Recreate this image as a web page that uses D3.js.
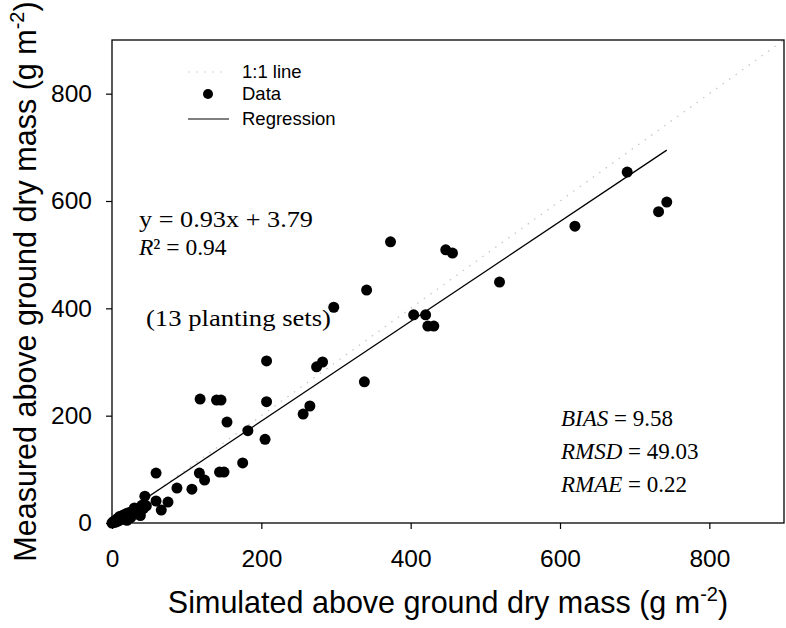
<!DOCTYPE html>
<html>
<head>
<meta charset="utf-8">
<script src="https://cdn.jsdelivr.net/npm/d3@7/dist/d3.min.js"></script>
<style>
  body { margin: 0; background: #fff; }
</style>
</head>
<body>
<div id="chart"></div>
<script>

// data (g m-2)
var simulated = [0, 2, 3, 5, 6, 8, 9, 10, 12, 14, 15, 17, 18, 20, 22, 24, 26, 28, 30, 33, 35, 38, 40, 36,
                 25, 20, 38, 46, 30,
                 44, 42, 59, 66, 75, 59, 87, 107, 117, 124, 144, 150, 175, 118, 140, 146, 154, 182, 205,
                 207, 207, 256, 265, 274, 282, 297, 338, 341, 373, 404, 420, 423, 431, 447, 456, 519,
                 620, 690, 732, 743];
var measured  = [0, 3, 1, 6, 2, 9, 4, 12, 7, 14, 10, 16, 8, 18, 13, 20, 16, 22, 18, 24, 20, 28, 33, 16,
                 10, 5, 14, 32, 28,
                 50, 27, 41, 24, 39, 93, 65, 63, 93, 80, 95, 95, 112, 231, 229, 229, 188, 172, 156,
                 226, 302, 203, 218, 291, 300, 402, 263, 434, 524, 388, 388, 367, 367, 509, 503, 449,
                 553, 654, 580, 598];

var xTicks = [0, 200, 400, 600, 800];
var yTicks = [0, 200, 400, 600, 800];
var axisMax = 900;

// regression y = 0.93x + 3.79 over the simulated range
var regSlope = 0.93, regIntercept = 3.79;
var regRange = [0, 743];

var legendLabels = ["1:1 line", "Data", "Regression"];
var eqText = "y = 0.93x + 3.79";
var r2Text = "\u00B2 = 0.94";
var setsText = "(13 planting sets)";
var statNames = ["BIAS", "RMSD", "RMAE"];
var statValues = ["9.58", "49.03", "0.22"];

var margin = {top: 40, right: 2, bottom: 105, left: 112},
    width = 786 - margin.left - margin.right,
    height = 628 - margin.top - margin.bottom;

var svg = d3.select("#chart")
  .append("svg")
    .attr("width", 786)
    .attr("height", 628)
  .append("g")
    .attr("transform", "translate(" + margin.left + "," + margin.top + ")");

var x = d3.scaleLinear().domain([0, axisMax]).range([0, width]);
var y = d3.scaleLinear().domain([0, axisMax]).range([height, 0]);

// axes
var xAxis = svg.append("g")
    .attr("transform", "translate(0," + height + ")")
    .call(d3.axisBottom(x).tickValues(xTicks).tickSize(6).tickSizeOuter(0).tickPadding(21));
var yAxis = svg.append("g")
    .call(d3.axisLeft(y).tickValues(yTicks).tickSize(6).tickSizeOuter(0).tickPadding(14));

[xAxis, yAxis].forEach(function(a) {
  a.select(".domain").remove();
  a.attr("font-family", "'Liberation Sans', Arial, sans-serif").attr("font-size", 24.5);
  a.selectAll("line").attr("stroke", "#000").attr("stroke-width", 1.2);
  a.selectAll("text").attr("fill", "#000");
});

// 1:1 line
svg.append("line")
    .attr("x1", x(0)).attr("y1", y(0))
    .attr("x2", x(axisMax)).attr("y2", y(axisMax))
    .attr("stroke", "#c4c4c4")
    .attr("stroke-width", 1.2)
    .attr("stroke-dasharray", "1.5,6.5");

// regression line
svg.append("path")
    .datum(regRange)
    .attr("fill", "none")
    .attr("stroke", "#000")
    .attr("stroke-width", 1.3)
    .attr("d", d3.line()
      .x(function(d) { return x(d); })
      .y(function(d) { return y(regSlope * d + regIntercept); }));

// points
svg.selectAll("circle.pt")
  .data(simulated)
  .enter().append("circle")
    .attr("class", "pt")
    .attr("cx", function(d) { return x(d); })
    .attr("cy", function(d, i) { return y(measured[i]); })
    .attr("r", 5.5)
    .attr("fill", "#000");

// frame
svg.append("rect")
    .attr("width", width).attr("height", height)
    .attr("fill", "none")
    .attr("stroke", "#000")
    .attr("stroke-width", 1.3);

// axis titles
var xt = svg.append("text")
    .attr("x", width / 2).attr("y", height + 90)
    .attr("text-anchor", "middle")
    .attr("font-family", "'Liberation Sans', Arial, sans-serif")
    .attr("font-size", 30.5);
xt.append("tspan").text("Simulated above ground dry mass (g m");
xt.append("tspan").attr("dy", -12).attr("font-size", 20).text("-2");
xt.append("tspan").attr("dy", 12).text(")");

var yt = svg.append("text")
    .attr("transform", "rotate(-90)")
    .attr("x", -height / 2).attr("y", -76)
    .attr("text-anchor", "middle")
    .attr("font-family", "'Liberation Sans', Arial, sans-serif")
    .attr("font-size", 30.5);
yt.append("tspan").text("Measured above ground dry mass (g m");
yt.append("tspan").attr("dy", -12).attr("font-size", 20).text("-2");
yt.append("tspan").attr("dy", 12).text(")");

// legend
var lg = svg.append("g")
    .attr("transform", "translate(76,32)")
    .attr("font-family", "'Liberation Sans', Arial, sans-serif")
    .attr("font-size", 18.5);
lg.append("line").attr("x1", 0).attr("x2", 40).attr("y1", 0).attr("y2", 0)
    .attr("stroke", "#c4c4c4").attr("stroke-width", 1.2).attr("stroke-dasharray", "1.5,6.5");
lg.append("circle").attr("cx", 20).attr("cy", 22).attr("r", 5).attr("fill", "#000");
lg.append("line").attr("x1", 0).attr("x2", 41).attr("y1", 47).attr("y2", 47)
    .attr("stroke", "#000").attr("stroke-width", 1.2);
lg.selectAll("text.lab")
  .data(legendLabels)
  .enter().append("text")
    .attr("class", "lab")
    .attr("x", 54)
    .attr("y", function(d, i) { return [0, 22, 47][i]; })
    .attr("dy", "0.35em")
    .text(function(d) { return d; });

// annotations
var serif = "'Liberation Serif', 'Times New Roman', serif";
svg.append("text")
    .attr("x", 27).attr("y", 187)
    .attr("font-family", serif).attr("font-size", 23)
    .attr("textLength", 174).attr("lengthAdjust", "spacingAndGlyphs")
    .text(eqText);
var r2 = svg.append("text")
    .attr("x", 27).attr("y", 215)
    .attr("font-family", serif).attr("font-size", 23.5);
r2.append("tspan").attr("font-style", "italic").text("R");
r2.append("tspan").text(r2Text);

svg.append("text")
    .attr("x", 34).attr("y", 286)
    .attr("font-family", serif).attr("font-size", 23)
    .attr("textLength", 185).attr("lengthAdjust", "spacingAndGlyphs")
    .text(setsText);

statNames.forEach(function(n, i) {
  var t = svg.append("text")
      .attr("x", 449).attr("y", 386 + i * 33)
      .attr("font-family", serif).attr("font-size", 23);
  t.append("tspan").attr("font-style", "italic").text(n);
  t.append("tspan").text(" = " + statValues[i]);
});

</script>
</body>
</html>
